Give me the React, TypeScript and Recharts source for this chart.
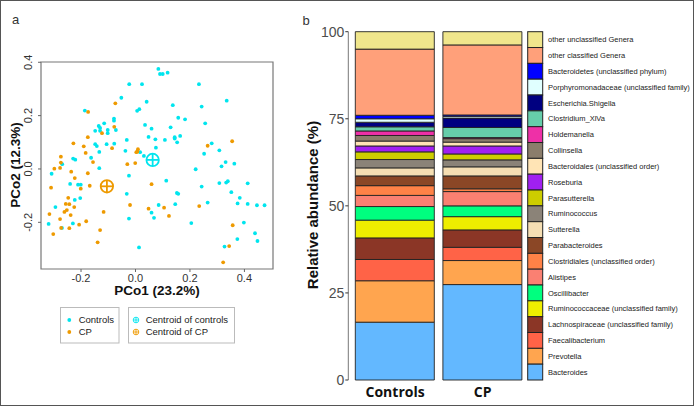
import { Bar, BarChart, ReferenceArea, Scatter, ScatterChart, XAxis, YAxis } from 'recharts';

const CYAN = '#00E5EE';
const ORANGE = '#EE9A00';
const FONT = '"Liberation Sans", Arial, sans-serif';

// PCoA coordinates [PCo1, PCo2]
const controlsPts: [number, number][] = [
  [0.084, 0.375], [0.09, 0.356], [0.1, 0.356], [0.118, 0.361], [-0.023, 0.318], [0.024, 0.318],
  [0.233, 0.318], [-0.052, 0.267], [0.041, 0.252], [0.335, 0.256], [0.137, 0.239], [0.243, 0.234],
  [-0.186, 0.219], [0.006, 0.218], [0.014, 0.224], [0.157, 0.192], [0.182, 0.186], [-0.079, 0.189],
  [-0.079, 0.181], [-0.115, 0.171], [-0.135, 0.161], [-0.13, 0.154], [0.256, 0.171], [0.035, 0.165],
  [0.059, 0.151], [0.129, 0.156], [-0.148, 0.143], [-0.13, 0.143], [-0.102, 0.146], [-0.102, 0.134],
  [-0.072, 0.146], [0.048, 0.12], [0.073, 0.111], [0.108, 0.109], [0.144, 0.119], [0.144, 0.114],
  [0.164, 0.124], [0.153, 0.1], [-0.032, 0.109], [-0.148, 0.093], [-0.142, 0.086], [-0.106, 0.093],
  [-0.078, 0.095], [0.28, 0.096], [0.308, 0.07], [-0.037, 0.068], [-0.133, 0.064], [0.075, 0.08],
  [0.017, 0.063], [-0.163, 0.042], [-0.229, 0.039], [-0.221, 0.035], [0.031, 0.049], [0.252, 0.057],
  [0.331, 0.026], [0.316, 0.01], [0.363, 0.02], [0.221, -0.001], [-0.133, 0.003], [-0.269, 0.018],
  [-0.308, -0.018], [-0.024, -0.025], [-0.24, -0.056], [-0.211, -0.059], [-0.201, -0.059], [0.113, -0.044],
  [0.243, -0.066], [0.308, -0.053], [0.333, -0.051], [0.339, -0.046], [0.352, -0.087], [0.412, -0.054],
  [-0.032, -0.093], [0.152, -0.09], [0.157, -0.093], [-0.223, -0.116], [-0.203, -0.109], [-0.294, -0.143],
  [0.375, -0.129], [0.265, -0.126], [0.383, -0.108], [0.412, -0.131], [0.446, -0.136], [0.474, -0.136],
  [0.085, -0.135], [0.146, -0.132], [0.059, -0.164], [0.068, -0.183], [-0.024, -0.186], [-0.319, -0.206],
  [-0.27, -0.221], [-0.23, -0.204], [0.205, -0.203], [0.398, -0.201], [0.439, -0.241], [0.448, -0.27],
  [0.374, -0.263], [0.327, -0.291], [0.013, -0.294],
];

const cpPts: [number, number][] = [
  [-0.074, 0.246], [-0.174, 0.214], [-0.123, 0.134], [-0.078, 0.158], [-0.228, 0.096], [-0.175, 0.119],
  [-0.19, 0.085], [-0.183, 0.06], [-0.156, 0.026], [-0.086, 0.078], [-0.274, 0.046], [-0.274, 0.024],
  [-0.277, 0.004], [-0.298, 0.001], [0.009, 0.074], [0.007, 0.065], [0.003, 0.063], [-0.03, 0.018],
  [-0.001, 0.022], [0.265, 0.087], [0.355, 0.104], [-0.236, -0.01], [-0.175, -0.016], [-0.223, -0.034],
  [-0.31, -0.07], [-0.201, -0.074], [-0.168, -0.063], [-0.247, -0.108], [-0.256, -0.131], [-0.243, -0.132],
  [-0.225, -0.143], [-0.252, -0.154], [-0.261, -0.161], [-0.238, -0.173], [-0.277, -0.188], [-0.273, -0.221],
  [-0.243, -0.222], [-0.316, -0.169], [-0.302, -0.244], [-0.207, -0.209], [-0.181, -0.196], [-0.117, -0.161],
  [-0.13, -0.229], [-0.139, -0.275], [-0.02, -0.135], [0.059, -0.057], [0.048, -0.149], [0.105, -0.145],
  [0.123, -0.176], [0.234, -0.139], [0.357, -0.211], [0.344, -0.289], [0.322, -0.35],
];

const controlsCentroid: [number, number][] = [[0.063, 0.034]];
const cpCentroid: [number, number][] = [[-0.105, -0.065]];

const pcoXDomain = [-0.347, 0.505];
const pcoYDomain = [-0.375, 0.401];
const pcoTicks = [-0.2, 0, 0.2, 0.4];

// relative abundance, stacked bottom -> top
const groups = ['Controls', 'CP'];
const taxa = [
  'Bacteroides',
  'Prevotella',
  'Faecalibacterium',
  'Lachnospiraceae (unclassified family)',
  'Ruminococcaceae (unclassified family)',
  'Oscillibacter',
  'Alistipes',
  'Clostridiales (unclassified order)',
  'Parabacteroides',
  'Sutterella',
  'Ruminococcus',
  'Parasutterella',
  'Roseburia',
  'Bacteroidales (unclassified order)',
  'Collinsella',
  'Holdemanella',
  'Clostridium_XlVa',
  'Escherichia.Shigella',
  'Porphyromonadaceae (unclassified family)',
  'Bacteroidetes (unclassified phylum)',
  'other classified Genera',
  'other unclassified Genera',
];
const taxaColors = [
  '#63B8FF', '#FFA54F', '#FF6347', '#8B3626', '#EEEE00', '#00FF7F', '#FA8072', '#FF8247',
  '#8B4726', '#F5DEB3', '#8B8378', '#CDCD00', '#A020F0', '#FFE4B5', '#8B7D6B', '#EE30A7',
  '#66CDAA', '#000080', '#E0FFFF', '#0000FF', '#FFA07A', '#F0E68C',
];
const controlsPct = [16.6, 11.9, 6.1, 6.2, 5.1, 3.9, 3.2, 2.8, 2.8, 2.3, 2.4, 2.2, 1.7, 1.4, 1.6, 1.3, 1.2, 1.3, 1.0, 1.0, 19.0, 5.0];
const cpPct = [27.4, 6.9, 3.8, 5.0, 3.8, 3.1, 4.1, 0.8, 3.7, 2.6, 2.0, 1.7, 2.3, 1.1, 1.0, 0.3, 2.9, 2.7, 0.5, 0.4, 20.1, 3.8];
const pctTicks = [0, 25, 50, 75, 100];

const toXY = (pts: [number, number][]) => pts.map(([x, y]) => ({ x, y }));

const barRows = groups.map((g, gi) => {
  const vals = gi === 0 ? controlsPct : cpPct;
  const row: Record<string, string | number> = { group: g };
  taxa.forEach((_, i) => {
    row[`t${i}`] = vals[i];
  });
  return row;
});

const fmt = (v: number) => v.toFixed(1);

function PcoXTick({ x, y, payload }: any) {
  return (
    <text x={x} y={y} dy="0.71em" textAnchor="middle" fontSize={11} fill="#333" fontFamily={FONT}>
      {fmt(payload.value)}
    </text>
  );
}

function PcoYTick({ x, y, payload }: any) {
  const bx = x - 4;
  return (
    <text x={bx} y={y} transform={`rotate(-90, ${bx}, ${y})`} textAnchor="middle" fontSize={11} fill="#333" fontFamily={FONT}>
      {fmt(payload.value)}
    </text>
  );
}

function PctTick({ x, y, payload }: any) {
  return (
    <text x={x} y={y} dy="0.36em" textAnchor="end" fontSize={14} fill="#4d4d4d" fontFamily={FONT}>
      {payload.value}
    </text>
  );
}

function GroupTick({ x, y, payload }: any) {
  return (
    <text x={x} y={y + 17} textAnchor="middle" fontSize={14} fontWeight="bold" fill="#111" fontFamily='"Open Sans", sans-serif'>
      {payload.value}
    </text>
  );
}

const dot = (color: string) => (p: any) => <circle cx={p.cx} cy={p.cy} r={1.9} fill={color} />;

const crossCircle = (color: string, r: number, sw: number) => (p: any) => (
  <g stroke={color} strokeWidth={sw} fill="none">
    <circle cx={p.cx} cy={p.cy} r={r} />
    <line x1={p.cx - r} y1={p.cy} x2={p.cx + r} y2={p.cy} />
    <line x1={p.cx} y1={p.cy - r} x2={p.cx} y2={p.cy + r} />
  </g>
);

function Overlay() {
  const keyTop = 31.7;
  const keyH = (380 - 31.7) / taxa.length;
  const legendOrder = taxa.map((t, i) => ({ t, c: taxaColors[i] })).reverse();
  const miniCross = (cx: number, cy: number, color: string) => crossCircle(color, 2.8, 0.9)({ cx, cy });
  return (
    <svg width={695} height={406} style={{ position: 'absolute', left: 0, top: 0, pointerEvents: 'none' }} fontFamily={FONT}>
      <text x={12} y={23.5} fontSize={13} fill="#333">a</text>
      <text x={302.5} y={25} fontSize={13} fill="#333">b</text>

      <text x={157} y={295} textAnchor="middle" fontSize={13.5} fontWeight="bold" fill="#111">PCo1 (23.2%)</text>
      <text x={19.5} y={165} transform="rotate(-90, 19.5, 165)" textAnchor="middle" fontSize={13.5} fontWeight="bold" fill="#111">
        PCo2 (12.3%)
      </text>
      <text x={318} y={205} transform="rotate(-90, 318, 205)" textAnchor="middle" fontSize={15} fontWeight="bold" fill="#111">
        Relative abundance (%)
      </text>

      <rect x={60.5} y={307.5} width={58.5} height={35.5} fill="#fff" stroke="#bbb" />
      <circle cx={69.3} cy={320} r={1.9} fill={CYAN} />
      <circle cx={69.3} cy={332} r={1.9} fill={ORANGE} />
      <text x={78.7} y={320} dy="0.35em" fontSize={9.5} fill="#222">Controls</text>
      <text x={78.7} y={332} dy="0.35em" fontSize={9.5} fill="#222">CP</text>

      <rect x={128.5} y={307.5} width={106} height={35.5} fill="#fff" stroke="#bbb" />
      {miniCross(136, 320, CYAN)}
      {miniCross(136, 332, ORANGE)}
      <text x={145.7} y={320} dy="0.35em" fontSize={9.5} fill="#222">Centroid of controls</text>
      <text x={145.7} y={332} dy="0.35em" fontSize={9.5} fill="#222">Centroid of CP</text>

      {legendOrder.map((d, k) => (
        <g key={d.t}>
          <rect x={527.7} y={keyTop + k * keyH} width={15} height={keyH} fill={d.c} stroke="#222" strokeWidth={1} />
          <text x={548} y={keyTop + (k + 0.5) * keyH} dy="0.35em" fontSize={7.5} fill="#222">
            {d.t}
          </text>
        </g>
      ))}
    </svg>
  );
}

export default function App() {
  return (
    <div
      style={{
        position: 'absolute',
        left: 0,
        top: 0,
        width: 694,
        height: 406,
        background: '#fff',
        border: '1.5px solid #555',
        boxSizing: 'border-box',
        overflow: 'hidden',
      }}
    >
      <div style={{ position: 'absolute', left: -1.5, top: -1.5 }}>
        <div style={{ position: 'absolute', left: 0, top: 0 }}>
          <ScatterChart width={290} height={300} margin={{ top: 62, right: 17, bottom: 11, left: 0 }}>
            <XAxis
              type="number"
              dataKey="x"
              domain={pcoXDomain}
              ticks={pcoTicks}
              allowDataOverflow
              axisLine={false}
              tickSize={3}
              tickMargin={2}
              tickLine={{ stroke: '#666' }}
              height={20}
              tick={<PcoXTick />}
            />
            <YAxis
              type="number"
              dataKey="y"
              domain={pcoYDomain}
              ticks={pcoTicks}
              allowDataOverflow
              axisLine={false}
              tickSize={3}
              tickMargin={2}
              tickLine={{ stroke: '#666' }}
              width={41}
              tick={<PcoYTick />}
            />
            <ReferenceArea
              x1={pcoXDomain[0]}
              x2={pcoXDomain[1]}
              y1={pcoYDomain[0]}
              y2={pcoYDomain[1]}
              fill="none"
              fillOpacity={0}
              stroke="#777"
              strokeWidth={1.2}
            />
            <Scatter data={toXY(controlsPts)} shape={dot(CYAN)} isAnimationActive={false} />
            <Scatter data={toXY(cpPts)} shape={dot(ORANGE)} isAnimationActive={false} />
            <Scatter data={toXY(controlsCentroid)} shape={crossCircle(CYAN, 6.2, 1.8)} isAnimationActive={false} />
            <Scatter data={toXY(cpCentroid)} shape={crossCircle(ORANGE, 6.2, 1.8)} isAnimationActive={false} />
          </ScatterChart>
        </div>

        <div style={{ position: 'absolute', left: 290, top: 0 }}>
          <BarChart
            width={245}
            height={406}
            data={barRows}
            barSize={79}
            margin={{ top: 31.7, right: 8.5, bottom: 6, left: 0 }}
          >
            <XAxis
              dataKey="group"
              axisLine={false}
              tickLine={false}
              tickSize={0}
              tickMargin={0}
              height={20}
              padding={{ left: 3, right: 0 }}
              tick={<GroupTick />}
            />
            <YAxis
              type="number"
              domain={[0, 100]}
              ticks={pctTicks}
              width={58.3}
              tickSize={3}
              tickMargin={1}
              axisLine={{ stroke: '#777' }}
              tickLine={{ stroke: '#333' }}
              tick={<PctTick />}
            />
            {taxa.map((t, i) => (
              <Bar
                key={t}
                dataKey={`t${i}`}
                stackId="a"
                fill={taxaColors[i]}
                stroke="#222"
                strokeWidth={0.9}
                isAnimationActive={false}
              />
            ))}
          </BarChart>
        </div>

        <Overlay />
      </div>
    </div>
  );
}
